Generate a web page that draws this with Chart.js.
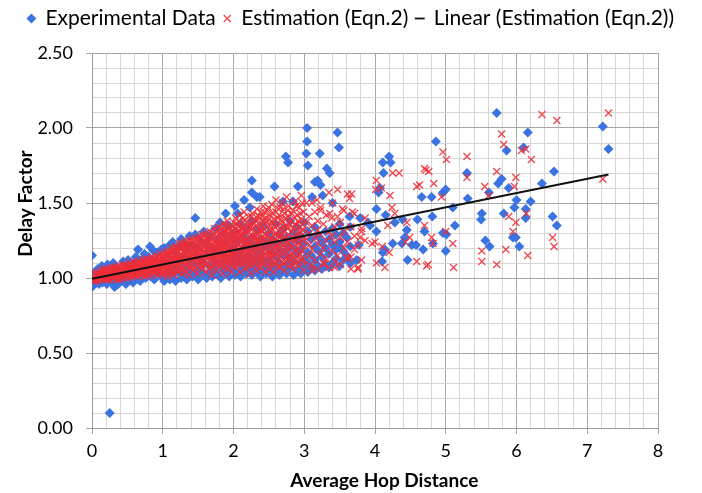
<!DOCTYPE html>
<html>
<head>
<meta charset="utf-8">
<script src="https://cdn.jsdelivr.net/npm/chart.js@4.4.1/dist/chart.umd.min.js"></script>
<style>
  body { margin: 0; background: #fff; }
  canvas { display: block; }
</style>
</head>
<body>
<canvas id="chart" width="702" height="493"></canvas>
<script>
const expNear = [
  [0,0.94],[0,0.96],[0.01,1.03],[0,1.15],[0.02,0.99],[0.04,1.01],[0.06,0.97],[0.08,1.06],[0.10,0.96],
  [0.12,1.02],[0.14,1.08],[0.15,0.97],[0.19,1.04],[0.21,0.96],[0.22,1.09],[0.24,1.01],[0.26,1.07],
  [0.28,0.97],[0.30,1.10],[0.32,0.94],[0.33,0.99],[0.35,1.06],[0.37,0.96],[0.40,1.05],[0.42,0.98],
  [0.44,1.11],[0.46,1.01],[0.48,0.96],[0.50,1.07],[0.51,1.12],[0.54,0.99],[0.56,1.04],[0.58,0.97],
  [0.60,1.10],[0.62,1.14],[0.64,1.00],[0.65,1.19],[0.66,1.06],[0.68,0.98],[0.70,1.12],[0.72,1.03],
  [0.74,1.16],[0.76,1.00],[0.78,1.08],[0.80,1.14],[0.82,1.21],[0.83,1.01],[0.85,1.05],[0.87,1.18],
  [0.88,0.99],[0.90,1.11],[0.92,1.17],[0.94,1.03],[0.96,1.07],[0.98,1.19],[1.00,1.00]
];
const expMid = [
  [1.02,[0.98,1.10,1.20]],[1.06,[1.03,1.15]],[1.10,[0.99,1.07,1.22]],[1.14,[1.02,1.12,1.24]],
  [1.18,[0.98,1.06,1.17]],[1.22,[1.04,1.13,1.21]],[1.26,[1.00,1.09,1.26]],[1.30,[1.03,1.15,1.23]],
  [1.34,[0.99,1.07,1.19]],[1.38,[1.05,1.12,1.28]],[1.42,[1.01,1.10,1.22]],[1.46,[1.03,1.16,1.29]],
  [1.50,[0.99,1.08,1.20]],[1.54,[1.05,1.13,1.25]],[1.58,[1.02,1.10,1.31]],[1.62,[1.00,1.17,1.23]],
  [1.66,[1.04,1.08,1.28]],[1.70,[1.01,1.14,1.20]],[1.74,[1.06,1.11,1.33]],[1.78,[1.02,1.18,1.26]],
  [1.82,[1.00,1.09,1.22]],[1.86,[1.05,1.15,1.30]],[1.90,[1.03,1.12,1.24]],[1.94,[1.01,1.08,1.19,1.35]],
  [1.98,[1.06,1.14,1.27]],[2.02,[1.02,1.10,1.22,1.31]],[2.06,[1.04,1.17,1.25]],[2.10,[1.01,1.09,1.13,1.36]],
  [2.14,[1.06,1.20,1.28]],[2.18,[1.03,1.11,1.24,1.33]],[2.22,[1.05,1.15,1.21]],[2.26,[1.02,1.08,1.27,1.38]],
  [2.30,[1.07,1.13,1.19]],[2.34,[1.04,1.10,1.23,1.32]],[2.38,[1.01,1.16,1.26]],[2.42,[1.06,1.12,1.20,1.35]],
  [2.46,[1.03,1.09,1.24]]
];
const expFar = [
  [2.50,[1.04,1.12,1.21,1.30]],[2.55,[1.01,1.08,1.17,1.26]],[2.60,[1.05,1.14,1.23,1.36]],
  [2.65,[1.02,1.10,1.19,1.29]],[2.70,[1.06,1.15,1.24,1.33]],[2.75,[1.03,1.09,1.18,1.27]],
  [2.80,[1.07,1.13,1.22,1.38]],[2.85,[1.02,1.11,1.20,1.30]],[2.90,[1.05,1.16,1.25,1.34]],
  [2.95,[1.03,1.09,1.19,1.28]],[3.00,[1.06,1.13,1.23,1.37]],[3.05,[1.04,1.10,1.17,1.31]],
  [3.10,[1.07,1.15,1.26]],[3.15,[1.05,1.12,1.21,1.34]],[3.20,[1.08,1.18,1.28]],[3.25,[1.06,1.14,1.24]],
  [3.30,[1.09,1.20,1.31]],[3.35,[1.07,1.16,1.26]],[3.40,[1.10,1.22,1.33]],[3.45,[1.13,1.19,1.29]],
  [3.50,[1.08,1.24,1.36]],[3.55,[1.12,1.18,1.30]],[3.60,[1.15,1.27]],[3.65,[1.10,1.21,1.34]]
];
const expOutliers = [
  [0.25,0.10],[1.46,1.40],[1.81,1.37],[1.89,1.43],[1.90,1.35],[2.02,1.48],[2.06,1.43],[2.15,1.52],
  [2.23,1.47],[2.26,1.65],[2.26,1.57],[2.33,1.54],[2.37,1.54],[2.58,1.61],[2.70,1.51],[2.74,1.81],
  [2.77,1.77],[2.84,1.51],[2.91,1.61],[3.03,1.83],[3.04,2.00],[3.04,1.91],[3.05,1.75],[3.11,1.54],
  [3.15,1.64],[3.19,1.65],[3.22,1.83],[3.23,1.62],[3.26,1.55],[3.32,1.73],[3.36,1.70],[3.40,1.50],
  [3.47,1.97],[3.49,1.87],[3.50,1.21],[3.60,1.13],[3.40,1.10],[3.64,1.41],[3.74,1.12],[3.77,1.22],
  [3.79,1.40],[3.90,1.37],[3.93,1.35],[4.02,1.46],[4.02,1.31],[4.05,1.57],[4.07,1.60],[4.11,1.77],
  [4.12,1.70],[4.11,1.17],[4.10,1.11],[4.14,1.19],[4.15,1.42],[4.20,1.81],[4.22,1.77],[4.25,1.23],
  [4.28,1.37],[4.38,1.23],[4.39,1.39],[4.42,1.27],[4.45,1.32],[4.46,1.12],[4.52,1.22],[4.58,1.22],
  [4.60,1.39],[4.66,1.54],[4.68,1.19],[4.70,1.31],[4.80,1.54],[4.81,1.41],[4.82,1.23],[4.86,1.91],
  [4.96,1.57],[4.96,1.30],[5.00,1.59],[5.00,1.18],[5.01,1.29],[5.10,1.47],[5.13,1.35],[5.30,1.70],
  [5.31,1.53],[5.50,1.39],[5.51,1.43],[5.56,1.25],[5.61,1.57],[5.62,1.21],[5.72,2.10],[5.74,1.63],
  [5.79,1.66],[5.82,1.43],[5.86,1.85],[5.89,1.60],[5.95,1.27],[5.97,1.47],[5.99,1.27],[6.00,1.52],
  [6.04,1.21],[6.10,1.87],[6.13,1.46],[6.13,1.40],[6.16,1.97],[6.20,1.51],[6.36,1.63],[6.51,1.41],
  [6.53,1.71],[6.57,1.35],[7.22,2.01],[7.30,1.86]
];

// Estimation (Eqn.2) (red crosses)
const estNear = [
  [0.01,[1.00,0.99]],[0.03,[1.01,0.98]],[0.05,[1.02,1.00,0.99]],[0.07,[1.01,1.03]],[0.09,[0.99,1.02,1.04]],
  [0.11,[1.00,1.03]],[0.13,[1.01,1.05,0.99]],[0.15,[1.02,1.04]],[0.17,[1.00,1.03,1.06]],[0.19,[1.02,0.99]],
  [0.21,[1.01,1.04,1.06]],[0.23,[1.03,1.00]],[0.25,[1.02,1.05,0.99]],[0.27,[1.01,1.04,1.07]],[0.29,[1.03,1.00]],
  [0.31,[1.02,1.05,1.07]],[0.33,[1.01,1.04]],[0.35,[1.03,1.06,0.99]],[0.37,[1.02,1.05,1.08]],[0.39,[1.00,1.04]],
  [0.41,[1.03,1.06,1.08]],[0.43,[1.01,1.05]],[0.45,[1.04,1.07,1.00]],[0.47,[1.02,1.06,1.09]],[0.49,[1.03,1.05]],
  [0.51,[1.01,1.04,1.08]],[0.53,[1.06,1.10,1.02]],[0.55,[1.03,1.07]],[0.57,[1.05,1.09,1.01]],[0.59,[1.04,1.07,1.11]],
  [0.61,[1.02,1.06]],[0.63,[1.05,1.09,1.03]],[0.65,[1.07,1.11,1.01]],[0.67,[1.04,1.08]],[0.69,[1.06,1.10,1.02]],
  [0.71,[1.05,1.08,1.12]],[0.73,[1.03,1.07]],[0.75,[1.06,1.10,1.01]],[0.77,[1.04,1.08,1.13]],[0.79,[1.07,1.11]],
  [0.81,[1.02,1.05,1.09]],[0.83,[1.08,1.12,1.04]],[0.85,[1.06,1.10,1.14]],[0.87,[1.03,1.07]],[0.89,[1.09,1.12,1.05]],
  [0.91,[1.07,1.11,1.15]],[0.93,[1.02,1.06,1.10]],[0.95,[1.08,1.13,1.04]],[0.97,[1.06,1.11,1.16]],[0.99,[1.03,1.09,1.13]]
];
const estNearFill = [
  [0.02,[1.01]],[0.06,[0.98,1.03]],[0.10,[1.01]],[0.14,[1.00,1.03]],[0.18,[1.05,1.01]],[0.22,[0.99,1.03]],
  [0.26,[1.06,1.02]],[0.30,[1.00,1.04]],[0.34,[1.07,1.02]],[0.38,[1.03,0.99]],[0.42,[1.05,1.01]],
  [0.46,[1.08,1.03]],[0.50,[1.06,1.00]],[0.54,[1.04,1.08]],[0.58,[1.02,1.06]],[0.62,[1.09,1.04]],
  [0.66,[1.03,1.06,1.10]],[0.70,[1.08,1.04]],[0.74,[1.05,1.12]],[0.78,[1.02,1.09]],[0.82,[1.07,1.11]],
  [0.86,[1.04,1.09,1.12]],[0.90,[1.06,1.13]],[0.94,[1.08,1.12]],[0.98,[1.05,1.14]]
];
const estMid = [
  [1.01,[1.02,1.07,1.12,1.17]],[1.04,[1.05,1.10,1.14]],[1.07,[1.01,1.08,1.13,1.18]],[1.10,[1.04,1.11,1.15]],
  [1.13,[1.06,1.09,1.16,1.20]],[1.16,[1.02,1.12,1.18]],[1.19,[1.07,1.10,1.14,1.21]],[1.22,[1.04,1.13,1.17]],
  [1.25,[1.08,1.11,1.19,1.23]],[1.28,[1.03,1.15,1.21]],[1.31,[1.06,1.12,1.17,1.24]],[1.34,[1.09,1.14,1.20]],
  [1.37,[1.02,1.11,1.18,1.25]],[1.40,[1.07,1.16,1.22]],[1.43,[1.05,1.13,1.19,1.26]],[1.46,[1.10,1.15,1.23]],
  [1.49,[1.03,1.12,1.20,1.27]],[1.52,[1.08,1.17,1.24]],[1.55,[1.06,1.14,1.21,1.29]],[1.58,[1.11,1.18,1.25]],
  [1.61,[1.04,1.09,1.16,1.23,1.30]],[1.64,[1.13,1.20,1.27]],[1.67,[1.07,1.15,1.22,1.31]],[1.70,[1.02,1.11,1.18,1.26]],
  [1.73,[1.09,1.14,1.24,1.33]],[1.76,[1.05,1.17,1.21,1.28]],[1.79,[1.12,1.19,1.25,1.34]],[1.82,[1.08,1.15,1.23,1.30]],
  [1.85,[1.03,1.13,1.20,1.27,1.36]],[1.88,[1.10,1.17,1.24,1.32]],[1.91,[1.06,1.14,1.22,1.29,1.38]],
  [1.94,[1.11,1.19,1.26,1.34]],[1.97,[1.04,1.09,1.16,1.23,1.31]],[2.00,[1.13,1.20,1.28,1.37]],
  [2.03,[1.07,1.15,1.25,1.33,1.40]],[2.06,[1.11,1.18,1.22,1.30]],[2.09,[1.04,1.14,1.27,1.35,1.42]],
  [2.12,[1.09,1.17,1.24,1.32]],[2.15,[1.12,1.20,1.29,1.38,1.44]],[2.18,[1.06,1.15,1.23,1.34]],
  [2.21,[1.10,1.19,1.26,1.31,1.41]],[2.24,[1.03,1.13,1.22,1.36]],[2.27,[1.08,1.17,1.28,1.33,1.43]],
  [2.30,[1.12,1.21,1.25,1.39]],[2.33,[1.05,1.15,1.30,1.35,1.46]],[2.36,[1.10,1.19,1.24,1.41]],
  [2.39,[1.07,1.14,1.27,1.32,1.44]],[2.42,[1.11,1.21,1.37,1.48]],[2.45,[1.04,1.16,1.23,1.29,1.40]],
  [2.48,[1.09,1.18,1.34,1.45]]
];
const estMidFill = [
  [1.025,[1.04,1.09,1.14]],[1.055,[1.07,1.12,1.16]],[1.085,[1.03,1.10,1.16]],[1.115,[1.06,1.13,1.18]],
  [1.145,[1.04,1.11,1.19]],[1.175,[1.08,1.15,1.20]],[1.205,[1.05,1.12,1.18]],[1.235,[1.09,1.15,1.22]],
  [1.265,[1.06,1.13,1.20]],[1.295,[1.10,1.18,1.23]],[1.325,[1.04,1.15,1.21]],[1.355,[1.11,1.17,1.24]],
  [1.385,[1.08,1.14,1.21]],[1.415,[1.12,1.19,1.25]],[1.445,[1.07,1.16,1.22]],[1.475,[1.13,1.18,1.26]],
  [1.505,[1.09,1.15,1.23]],[1.535,[1.12,1.20,1.27]],[1.565,[1.08,1.17,1.24]],[1.595,[1.14,1.21,1.28]],
  [1.625,[1.10,1.19,1.26]],[1.655,[1.06,1.16,1.24]],[1.685,[1.13,1.20,1.28]],[1.715,[1.08,1.17,1.23,1.30]],
  [1.745,[1.12,1.19,1.27]],[1.775,[1.09,1.15,1.23,1.31]],[1.805,[1.13,1.21,1.28]],[1.835,[1.10,1.18,1.25,1.33]],
  [1.865,[1.07,1.15,1.22,1.30]],[1.895,[1.12,1.20,1.27,1.35]],[1.925,[1.09,1.17,1.25,1.32]],
  [1.955,[1.14,1.22,1.29]],[1.985,[1.11,1.18,1.26,1.34]],[2.015,[1.08,1.16,1.23,1.30]],
  [2.045,[1.12,1.20,1.28,1.36]],[2.075,[1.09,1.17,1.25,1.32,1.38]],[2.105,[1.13,1.21,1.29]],
  [2.135,[1.10,1.18,1.26,1.34,1.40]],[2.165,[1.14,1.22,1.31]],[2.195,[1.08,1.17,1.25,1.37]],
  [2.225,[1.12,1.20,1.28,1.34]],[2.255,[1.15,1.24,1.32,1.41]],[2.285,[1.10,1.19,1.27,1.36]],
  [2.315,[1.13,1.22,1.28,1.38]],[2.345,[1.08,1.18,1.26,1.33,1.42]],[2.375,[1.14,1.22,1.30,1.37]],
  [2.405,[1.10,1.18,1.25,1.34,1.41]],[2.435,[1.15,1.26,1.32,1.44]],[2.465,[1.12,1.20,1.28,1.37]],
  [2.495,[1.16,1.25,1.39,1.47]]
];
const estFar = [
  [2.51,[1.06,1.14,1.22,1.31,1.42]],[2.54,[1.11,1.19,1.27,1.38,1.49]],[2.57,[1.04,1.16,1.25,1.35]],
  [2.60,[1.09,1.21,1.30,1.44,1.52]],[2.63,[1.13,1.18,1.28,1.40]],[2.66,[1.07,1.23,1.33,1.47]],
  [2.69,[1.11,1.17,1.26,1.37,1.50]],[2.72,[1.05,1.20,1.31,1.43]],[2.75,[1.14,1.24,1.35,1.54]],
  [2.78,[1.08,1.19,1.29,1.41,1.48]],[2.81,[1.12,1.22,1.38]],[2.84,[1.06,1.16,1.27,1.33,1.45]],
  [2.87,[1.10,1.25,1.36,1.51]],[2.90,[1.14,1.20,1.30,1.42]],[2.93,[1.08,1.23,1.34,1.47]],
  [2.96,[1.12,1.18,1.28,1.39,1.55]],[2.99,[1.05,1.21,1.32,1.44]],[3.03,[1.10,1.26,1.37,1.50]],
  [3.07,[1.15,1.22,1.30,1.41]],[3.11,[1.08,1.19,1.35,1.50]],[3.15,[1.12,1.27,1.44]],
  [3.19,[1.06,1.23,1.32,1.38]],[3.23,[1.16,1.29,1.47]],[3.27,[1.10,1.20,1.36]],[3.31,[1.13,1.25,1.42]],
  [3.35,[1.07,1.31,1.57]],[3.39,[1.18,1.28,1.40]],[3.43,[1.11,1.24,1.34]],[3.47,[1.15,1.41,1.59]],
  [3.51,[1.09,1.27,1.37]],[3.56,[1.20,1.31,1.45]],[3.61,[1.13,1.24,1.56]],[3.66,[1.06,1.14,1.34]],
  [3.71,[1.19,1.28,1.43]],[3.76,[1.06,1.22]],[3.81,[1.12,1.31]],[3.86,[1.25,1.40]]
];
const estFarFill = [
  [2.525,[1.09,1.17,1.26,1.35]],[2.555,[1.14,1.23,1.32,1.43]],[2.585,[1.10,1.20,1.29,1.39]],
  [2.615,[1.16,1.25,1.35,1.47]],[2.645,[1.08,1.21,1.31,1.42]],[2.675,[1.14,1.28,1.39]],
  [2.705,[1.10,1.22,1.34,1.46]],[2.735,[1.17,1.27,1.40]],[2.765,[1.12,1.23,1.33,1.45]],
  [2.795,[1.15,1.26,1.36]],[2.825,[1.09,1.20,1.31,1.43]],[2.855,[1.14,1.24,1.40]],
  [2.885,[1.18,1.28,1.35,1.48]],[2.915,[1.11,1.26,1.38]],[2.945,[1.16,1.31,1.43]],
  [2.975,[1.13,1.25,1.36,1.50]]
];
const estOutliers = [
  [3.18,1.52],[3.23,1.45],[3.36,1.43],[3.40,1.50],[3.54,1.46],[3.64,1.53],[3.67,1.56],[3.68,1.44],
  [3.79,1.27],[3.81,1.33],[3.43,1.07],[3.28,1.09],[3.11,1.05],[3.60,1.14],[3.76,1.07],[3.96,1.23],
  [4.00,1.24],[4.10,1.21],[4.01,1.59],[4.02,1.65],[4.09,1.60],[4.21,1.55],[4.24,1.47],[4.28,1.43],
  [4.18,1.35],[4.25,1.70],[4.34,1.70],[4.45,1.37],[4.49,1.27],[4.43,1.24],[4.20,1.17],[4.14,1.07],
  [4.02,1.10],[4.59,1.11],[4.59,1.61],[4.63,1.62],[4.70,1.73],[4.76,1.71],[4.72,1.72],[4.73,1.08],
  [4.75,1.09],[4.70,1.35],[4.80,1.27],[4.82,1.23],[4.83,1.63],[4.94,1.54],[4.96,1.84],[5.01,1.79],
  [5.00,1.31],[5.10,1.23],[5.11,1.07],[5.30,1.81],[5.30,1.67],[5.51,1.18],[5.51,1.11],[5.55,1.61],
  [5.61,1.55],[5.72,1.71],[5.72,1.09],[5.79,1.96],[5.82,1.89],[5.85,1.19],[5.89,1.41],[5.95,1.31],
  [5.97,1.61],[5.99,1.67],[5.99,1.37],[6.07,1.85],[6.13,1.86],[6.14,1.43],[6.16,1.15],[6.21,1.79],
  [6.36,2.09],[6.51,1.27],[6.53,1.21],[6.57,2.05],[7.22,1.66],[7.30,2.10]
];

// Linear trend of the estimation
const trendX = [0, 7.3];
const trendY = [0.995, 1.69];

const xTicks = [0, 1, 2, 3, 4, 5, 6, 7, 8];
const yTicks = [0, 0.5, 1, 1.5, 2, 2.5];

const toPts = arr => arr.map(([x, y]) => ({ x, y }));
const fromCols = cols => cols.flatMap(([x, ys]) => ys.map(y => ({ x, y })));

const expData = [...toPts(expNear), ...fromCols(expMid), ...fromCols(expFar), ...toPts(expOutliers)];
const estData = [
  ...fromCols(estNear), ...fromCols(estNearFill), ...fromCols(estMid), ...fromCols(estMidFill),
  ...fromCols(estFar), ...fromCols(estFarFill), ...toPts(estOutliers)
];
const trendData = trendX.map((x, i) => ({ x, y: trendY[i] }));

const isMajor = (v, list) => list.some(t => Math.abs(t - v) < 1e-6);
const majorGrid = '#a6a6a6';
const minorGrid = '#d6d6d6';

// fixed legend height so the plot starts where the reference does
const legendHeight = {
  id: 'legendHeight',
  beforeInit(chart) {
    const fit = chart.legend.fit;
    chart.legend.fit = function () {
      fit.call(this);
      this.height = 53;
    };
  }
};

Chart.defaults.font.family = 'Lato, "Open Sans", sans-serif';
Chart.defaults.color = '#000';

const ctx = document.getElementById('chart').getContext('2d');
new Chart(ctx, {
  type: 'scatter',
  data: {
    datasets: [
      {
        label: 'Experimental Data',
        data: expData,
        pointStyle: 'rectRot',
        pointRadius: 5,
        backgroundColor: '#3b73e3',
        borderColor: '#3b73e3',
        borderWidth: 0,
        order: 3
      },
      {
        label: 'Estimation (Eqn.2)',
        data: estData,
        pointStyle: 'crossRot',
        pointRadius: 5,
        borderColor: 'rgba(240,45,55,0.9)',
        backgroundColor: 'rgba(240,45,55,0.9)',
        borderWidth: 1.2,
        order: 2
      },
      {
        label: 'Linear (Estimation (Eqn.2))',
        type: 'line',
        data: trendData,
        showLine: true,
        borderColor: '#111',
        backgroundColor: '#777',
        borderWidth: 1.8,
        pointRadius: 0,
        pointStyle: 'line',
        order: 1
      }
    ]
  },
  options: {
    responsive: false,
    animation: false,
    devicePixelRatio: 1,
    layout: { padding: 0 },
    plugins: {
      tooltip: { enabled: false },
      legend: {
        position: 'top',
        align: 'center',
        labels: {
          usePointStyle: true,
          boxWidth: 7,
          boxHeight: 7,
          padding: 8,
          font: { size: 21 },
          sort: (a, b) => a.datasetIndex - b.datasetIndex
        }
      }
    },
    scales: {
      x: {
        type: 'linear',
        min: 0,
        max: 8,
        afterFit: s => { s.height = 65; },
        ticks: {
          stepSize: 0.2,
          autoSkip: false,
          maxRotation: 0,
          padding: 6,
          font: { size: 18 },
          callback: v => (isMajor(v, xTicks) ? String(Math.round(v)) : '')
        },
        grid: {
          tickLength: 6,
          color: c => (isMajor(c.tick.value, xTicks) ? majorGrid : minorGrid),
          tickColor: c => (isMajor(c.tick.value, xTicks) ? majorGrid : 'rgba(0,0,0,0)')
        },
        border: { color: '#999' },
        title: {
          display: true,
          text: '    Average Hop Distance',
          font: { size: 19, weight: 'bold' },
          padding: { top: 0, bottom: 1 }
        }
      },
      y: {
        min: 0,
        max: 2.5,
        afterFit: s => { s.width = 92; },
        ticks: {
          stepSize: 0.1,
          autoSkip: false,
          padding: 13,
          font: { size: 18 },
          callback: v => (isMajor(v, yTicks) ? v.toFixed(2) : '')
        },
        grid: {
          tickLength: 6,
          color: c => (isMajor(c.tick.value, yTicks) ? majorGrid : minorGrid),
          tickColor: c => (isMajor(c.tick.value, yTicks) ? majorGrid : 'rgba(0,0,0,0)')
        },
        border: { color: '#999' },
        title: {
          display: true,
          text: '                Delay Factor',
          font: { size: 19, weight: 'bold' },
          padding: { top: 14, bottom: 0 }
        }
      },
      // empty right-hand margin, keeps the plot's right edge where the reference has it
      yRight: {
        position: 'right',
        display: true,
        afterFit: s => { s.width = 44; },
        ticks: { display: false },
        grid: { display: false, drawTicks: false },
        border: { display: false }
      }
    }
  },
  plugins: [legendHeight]
});
</script>
</body>
</html>
